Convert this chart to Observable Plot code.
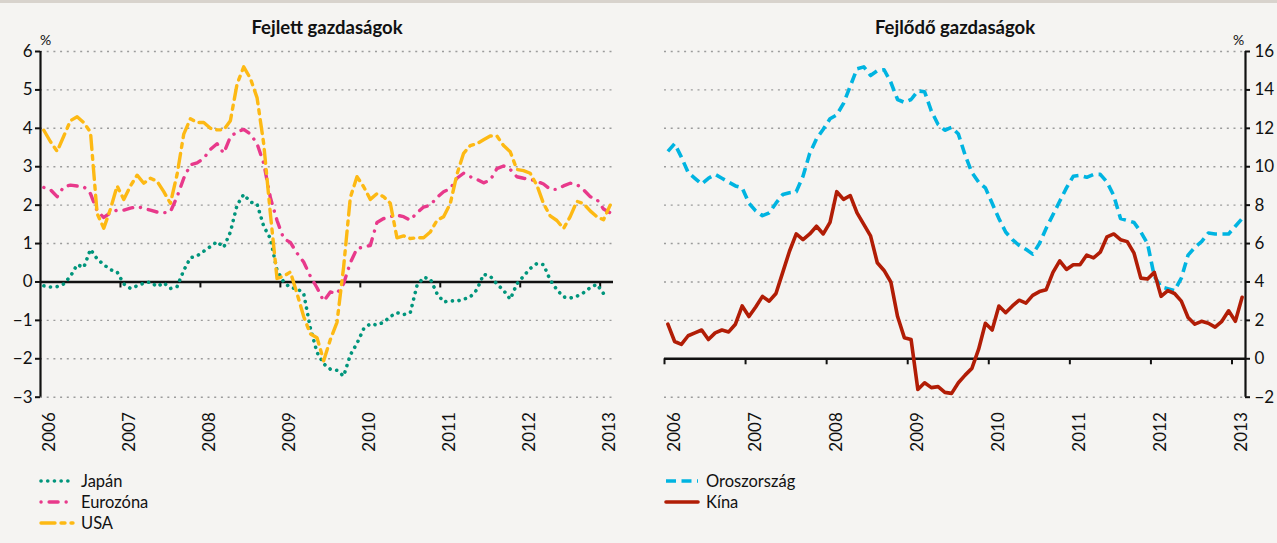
<!DOCTYPE html>
<html><head><meta charset="utf-8">
<script src="https://cdn.jsdelivr.net/npm/d3@7"></script>
<script src="https://cdn.jsdelivr.net/npm/@observablehq/plot@0.6"></script>
<style>
body{margin:0;background:#f5f4f2;}
#root{position:relative;width:1277px;height:543px;background:#f5f4f2;font-family:Lato,"Noto Sans",sans-serif;color:#111;overflow:hidden;}
#topbar{position:absolute;left:0;top:0;width:1277px;height:3px;background:#d8d3cd;}
.title{position:absolute;top:16px;font-weight:bold;font-size:18.5px;transform:translateX(-50%);white-space:nowrap;}
.pct{position:absolute;top:31px;font-size:14px;}
.panel{position:absolute;top:0;}
.legend{position:absolute;font-size:16.5px;}
.legend .item{display:flex;align-items:center;height:21px;white-space:nowrap;}
.legend svg{margin-right:6px;}
</style></head><body>
<div id="root">
  <div id="topbar"></div>
  <div id="left" class="panel" style="left:0px"></div>
  <div id="right" class="panel" style="left:640px"></div>
  <div class="title" style="left:327px">Fejlett gazdaságok</div>
  <div class="title" style="left:955px">Fejlődő gazdaságok</div>
  <div class="pct" style="left:40px">%</div>
  <div class="pct" style="left:1233px">%</div>
  <div id="legL" class="legend" style="left:39px;top:470px"></div>
  <div id="legR" class="legend" style="left:664px;top:470px"></div>
</div>
<script>
// ---- data (monthly, Jan 2006 – Feb 2013) ----
const years = ["2006","2007","2008","2009","2010","2011","2012","2013"];
const yearIdx = [0,12,24,36,48,60,72,84];
const leftTicks = [-3,-2,-1,0,1,2,3,4,5,6];
const rightTicks = [-2,0,2,4,6,8,10,12,14,16];

const japan = [-0.1,-0.13,-0.12,-0.05,0.15,0.45,0.38,0.85,0.6,0.45,
  0.32,0.26,-0.05,-0.17,-0.1,-0.03,0.0,-0.12,-0.02,-0.17,
  -0.12,0.3,0.63,0.68,0.8,0.92,1.05,0.9,1.3,2.0,
  2.28,2.08,2.03,1.45,1.13,0.3,0.0,-0.15,-0.17,-0.3,
  -1.2,-1.83,-2.13,-2.27,-2.3,-2.45,-1.9,-1.6,-1.22,-1.09,
  -1.12,-1.05,-0.9,-0.8,-0.85,-0.8,-0.1,0.12,0.08,-0.3,
  -0.52,-0.49,-0.5,-0.45,-0.39,-0.2,0.2,0.15,-0.05,-0.22,
  -0.45,-0.05,0.15,0.35,0.48,0.45,0.05,-0.2,-0.39,-0.42,
  -0.37,-0.28,-0.15,-0.06,-0.3,null];
const eurozone = [2.46,2.4,2.22,2.48,2.52,2.5,2.48,2.3,1.85,1.68,
  1.8,1.87,1.87,1.92,1.96,1.92,1.87,1.82,1.8,1.83,
  2.22,2.7,3.05,3.1,3.22,3.45,3.6,3.35,3.78,3.91,
  3.97,3.85,3.6,3.09,2.2,1.6,1.13,1.03,0.75,0.52,
  0.15,-0.15,-0.5,-0.26,-0.3,-0.04,0.5,0.87,0.91,0.95,
  1.55,1.65,1.7,1.74,1.7,1.61,1.8,1.95,2.0,2.2,
  2.35,2.43,2.7,2.83,2.74,2.67,2.58,2.65,2.95,3.02,
  2.93,2.74,2.7,2.67,2.62,2.55,2.41,2.41,2.5,2.57,
  2.54,2.4,2.22,2.15,1.9,1.8];
const usa = [3.95,3.65,3.4,3.8,4.2,4.3,4.15,3.9,1.78,1.4,
  1.9,2.5,2.15,2.5,2.78,2.57,2.7,2.62,2.35,2.05,
  2.8,3.85,4.25,4.15,4.15,4.0,3.96,3.96,4.2,5.15,
  5.6,5.3,4.8,3.6,1.78,0.09,0.15,0.26,-0.3,-0.9,
  -1.35,-1.45,-2.05,-1.5,-1.05,0.4,2.2,2.74,2.48,2.15,
  2.3,2.22,2.05,1.15,1.2,1.13,1.15,1.15,1.3,1.6,
  1.7,2.04,2.8,3.35,3.55,3.6,3.7,3.8,3.8,3.55,
  3.39,2.93,2.9,2.83,2.52,2.04,1.72,1.6,1.39,1.7,
  2.1,2.04,1.85,1.7,1.62,2.0];
const russia = [10.8,11.2,10.5,9.7,9.4,9.1,9.4,9.6,9.4,9.2,
  9.0,8.9,8.1,7.7,7.45,7.6,8.1,8.55,8.65,8.7,
  9.5,10.7,11.45,11.95,12.5,12.7,13.3,14.2,15.1,15.2,
  14.75,15.0,15.05,14.4,13.5,13.35,13.5,13.95,13.9,12.9,
  12.2,11.9,12.05,11.7,10.6,9.7,9.2,8.9,8.1,7.3,
  6.6,6.2,5.9,5.7,5.45,6.0,6.8,7.5,8.2,8.9,
  9.5,9.55,9.45,9.6,9.6,9.2,8.5,7.3,7.2,7.1,
  6.6,6.0,4.3,3.75,3.65,3.55,4.2,5.4,5.8,6.1,
  6.55,6.5,6.5,6.5,6.9,7.3];
const china = [1.8,0.9,0.75,1.2,1.35,1.5,1.0,1.35,1.5,1.4,
  1.8,2.75,2.2,2.7,3.25,3.0,3.4,4.5,5.6,6.5,
  6.2,6.5,6.9,6.5,7.1,8.7,8.3,8.5,7.6,7.0,
  6.4,5.0,4.6,4.0,2.2,1.1,1.0,-1.6,-1.25,-1.5,
  -1.45,-1.75,-1.8,-1.25,-0.85,-0.5,0.5,1.85,1.5,2.75,
  2.4,2.75,3.05,2.9,3.3,3.5,3.6,4.5,5.1,4.65,
  4.9,4.9,5.4,5.25,5.55,6.35,6.5,6.2,6.1,5.5,
  4.2,4.15,4.5,3.25,3.55,3.4,3.0,2.15,1.8,1.95,
  1.85,1.65,1.95,2.5,1.95,3.2];

// ---- styles ----
const S = {
  japan:    {stroke:"#00957c", strokeWidth:3.6, strokeDasharray:"0.1,6.6", strokeLinecap:"round"},
  eurozone: {stroke:"#e8398b", strokeWidth:3.4, strokeDasharray:"0.1,8,9,8", strokeLinecap:"round"},
  usa:      {stroke:"#fdb914", strokeWidth:3.4, strokeDasharray:"14,6,4,6", strokeLinecap:"round"},
  russia:   {stroke:"#00b4e1", strokeWidth:3.6, strokeDasharray:"10,5.5", strokeLinecap:"butt"},
  china:    {stroke:"#b11d06", strokeWidth:3.6, strokeLinecap:"round"}
};
const rows = arr => arr.map((v, k) => ({x: k + 0.5, y: v}));
const fmt = d => d < 0 ? "\u2212" + Math.abs(d) : String(d);
const grid = {stroke:"#9c9c9c", strokeWidth:1.4, strokeDasharray:"2,4.7"};
const ink = "#111";
const baseStyle = {background:"transparent", overflow:"visible", fontFamily:"Lato, 'Noto Sans', sans-serif", fontSize:"17px", color:ink};

const left = Plot.plot({
  width: 640, height: 470,
  marginLeft: 40, marginRight: 27, marginTop: 51, marginBottom: 73.3,
  x: {domain: [0, 86], axis: null},
  y: {domain: [-3, 6], axis: null},
  style: baseStyle,
  marks: [
    Plot.ruleY(leftTicks, grid),
    Plot.ruleY([0], {stroke: ink, strokeWidth: 2.6}),
    Plot.ruleX(yearIdx.slice(1), {x: d => d, y1: 0, y2: 0, insetBottom: -6, stroke: ink, strokeWidth: 2}),
    Plot.ruleX([0], {y1: -3, y2: 6, stroke: ink, strokeWidth: 2.2}),
    Plot.ruleY(leftTicks, {y: d => d, x1: 0, x2: 0, insetLeft: -5, stroke: ink, strokeWidth: 2}),
    Plot.text(leftTicks, {x: 0, y: d => d, text: fmt, textAnchor: "end", dx: -8, fill: ink}),
    Plot.text(yearIdx, {x: d => d, y: -3, text: (d, i) => years[i], rotate: -90, textAnchor: "end", dy: 15, dx: 9, fill: ink}),
    Plot.line(rows(japan), {x: "x", y: "y", ...S.japan}),
    Plot.line(rows(eurozone), {x: "x", y: "y", ...S.eurozone}),
    Plot.line(rows(usa), {x: "x", y: "y", ...S.usa})
  ]
});
document.getElementById("left").appendChild(left);

const right = Plot.plot({
  width: 637, height: 470,
  marginLeft: 24, marginRight: 32, marginTop: 51, marginBottom: 73.3,
  x: {domain: [0, 86], axis: null},
  y: {domain: [-2, 16], axis: null},
  style: baseStyle,
  marks: [
    Plot.ruleY(rightTicks, grid),
    Plot.ruleY([0], {stroke: ink, strokeWidth: 2.6}),
    Plot.ruleX(yearIdx, {x: d => d, y1: 0, y2: 0, insetBottom: -6, stroke: ink, strokeWidth: 2}),
    Plot.ruleX([86], {y1: -2, y2: 16, stroke: ink, strokeWidth: 2.2}),
    Plot.ruleY(rightTicks, {y: d => d, x1: 86, x2: 86, insetRight: -5, stroke: ink, strokeWidth: 2}),
    Plot.text(rightTicks, {x: 86, y: d => d, text: fmt, textAnchor: "start", dx: 9, fill: ink}),
    Plot.text(yearIdx, {x: d => d, y: -2, text: (d, i) => years[i], rotate: -90, textAnchor: "end", dy: 15, dx: 10, fill: ink}),
    Plot.line(rows(russia), {x: "x", y: "y", ...S.russia}),
    Plot.line(rows(china), {x: "x", y: "y", ...S.china})
  ]
});
document.getElementById("right").appendChild(right);

// ---- legends ----
function legend(id, items) {
  const el = document.getElementById(id);
  for (const [label, st] of items) {
    const item = document.createElement("div");
    item.className = "item";
    const dash = st.strokeDasharray ? `stroke-dasharray="${st.strokeDasharray}"` : "";
    item.innerHTML = `<svg width="36" height="10"><line x1="2" y1="5" x2="34" y2="5" stroke="${st.stroke}" stroke-width="${st.strokeWidth}" ${dash} stroke-linecap="${st.strokeLinecap}"/></svg><span>${label}</span>`;
    el.appendChild(item);
  }
}
legend("legL", [["Japán", S.japan], ["Eurozóna", S.eurozone], ["USA", S.usa]]);
legend("legR", [["Oroszország", S.russia], ["Kína", S.china]]);
</script>
</body></html>
